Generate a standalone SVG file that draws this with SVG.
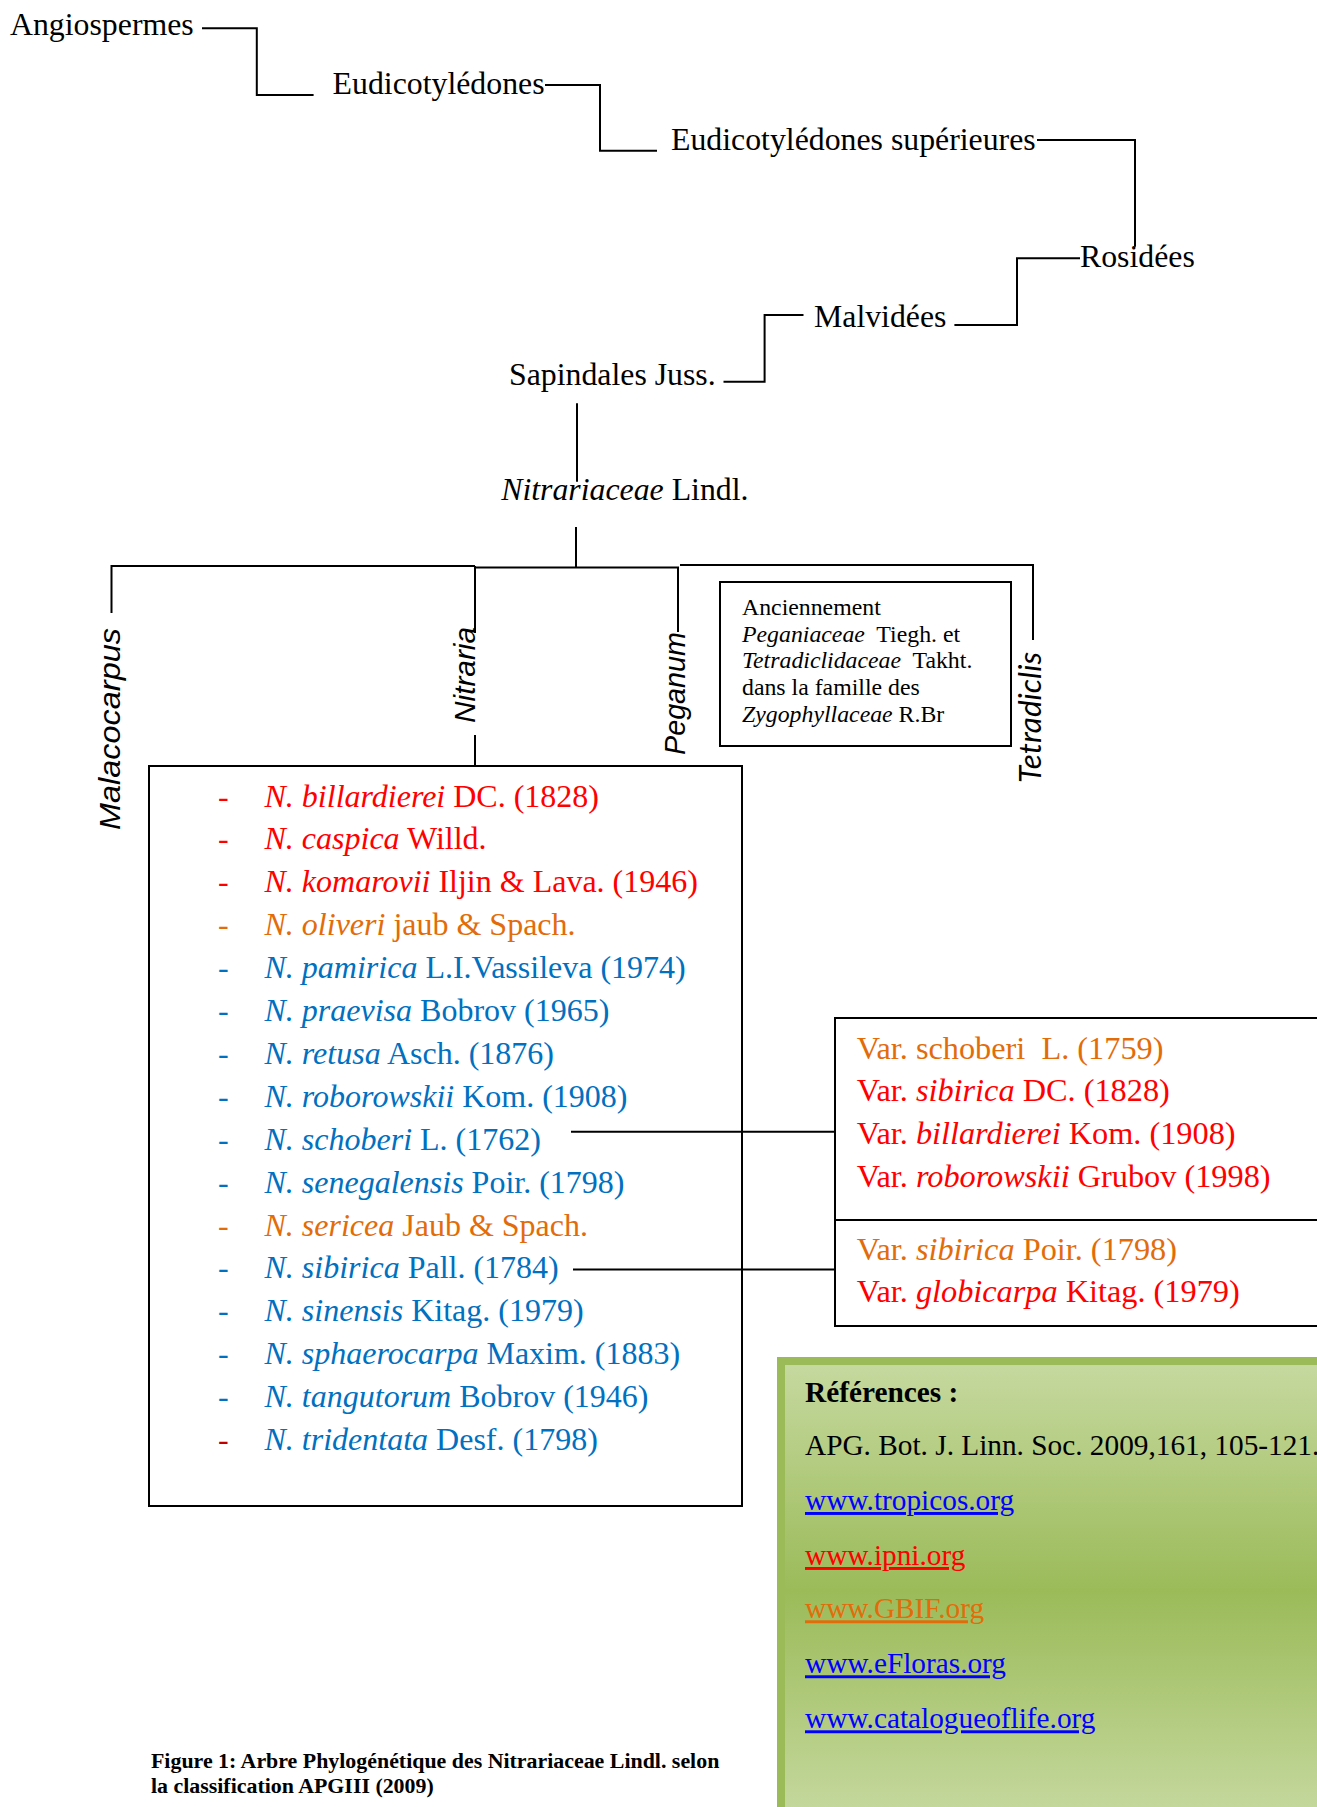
<svg xmlns="http://www.w3.org/2000/svg" width="1317" height="1807" viewBox="0 0 1317 1807">
<defs>
<linearGradient id="gr" x1="0" y1="0" x2="0" y2="1">
<stop offset="0" stop-color="#C6D9A0"/>
<stop offset="0.5" stop-color="#9BBB59"/>
<stop offset="1" stop-color="#C6D9A0"/>
</linearGradient>
</defs>
<style>
.t{font-family:"Liberation Serif","Times New Roman",serif;font-size:31.8px;fill:#000}
.l{font-family:"Liberation Serif","Times New Roman",serif;font-size:32px}
.v{font-family:"Liberation Serif","Times New Roman",serif;font-size:32.3px}
.s{font-family:"Liberation Serif","Times New Roman",serif;font-size:23.8px;fill:#000}
.r{font-family:"Liberation Serif","Times New Roman",serif;font-size:29.3px;fill:#000}
.g{font-family:"Liberation Sans",Arial,sans-serif;font-style:italic;font-size:30px;fill:#000}
.c{font-family:Lato,"Liberation Sans",sans-serif;font-style:italic;font-size:31px;fill:#000}
.i{font-style:italic}
.red{fill:#FF0000}
.ora{fill:#E36C0A}
.blu{fill:#0070C0}
.dred{fill:#C00000}
.lb{fill:#0000FF}
.ln{fill:none;stroke:#000;stroke-width:2}
.bx{fill:#fff;stroke:#000;stroke-width:2}
.u{text-decoration:underline}
</style>

<g id="angiospermes"><text class="t" x="10" y="34.5">Angiospermes</text></g>
<g id="eudicotyledones"><text class="t" x="332.6" y="93.5">Eudicotylédones</text></g>
<g id="eudicotyledones-superieures"><text class="t" x="671" y="150">Eudicotylédones supérieures</text></g>
<g id="rosidees"><text class="t" x="1080" y="266.7">Rosidées</text></g>
<g id="malvidees"><text class="t" x="814" y="326.7">Malvidées</text></g>
<g id="sapindales"><text class="t" x="509" y="384.5">Sapindales Juss.</text></g>
<g id="nitrariaceae"><text class="t" x="501.2" y="500"><tspan class="i">Nitrariaceae</tspan> Lindl.</text></g>

<g id="malacocarpus"><text class="g" transform="translate(120,830) rotate(-90)" textLength="202" lengthAdjust="spacingAndGlyphs">Malacocarpus</text></g>
<g id="nitraria"><text class="g" transform="translate(475,723) rotate(-90)" textLength="96" lengthAdjust="spacingAndGlyphs">Nitraria</text></g>
<g id="peganum"><text class="g" transform="translate(685,755) rotate(-90)" textLength="123" lengthAdjust="spacingAndGlyphs">Peganum</text></g>
<g id="tetradiclis"><text class="c" transform="translate(1041,783) rotate(-90)" textLength="131" lengthAdjust="spacingAndGlyphs">Tetradiclis</text></g>

<g id="note">
<rect class="bx" x="720" y="582" width="291" height="164"/>
<text class="s" x="742" y="615">Anciennement</text>
<text class="s" x="742" y="641.7" xml:space="preserve"><tspan class="i">Peganiaceae</tspan>  Tiegh. et</text>
<text class="s" x="742" y="668.3" xml:space="preserve"><tspan class="i">Tetradiclidaceae</tspan>  Takht.</text>
<text class="s" x="742" y="695">dans la famille des</text>
<text class="s" x="742" y="721.7"><tspan class="i">Zygophyllaceae</tspan> R.Br</text>
</g>

<g id="species">
<rect class="bx" x="149" y="766" width="593" height="740"/>
<g class="l">
<text class="red" x="218" y="806.5">-</text><text class="red" x="264.5" y="806.5"><tspan class="i">N. billardierei</tspan> DC. (1828)</text>
<text class="red" x="218" y="849.4">-</text><text class="red" x="264.5" y="849.4"><tspan class="i">N. caspica</tspan> Willd.</text>
<text class="red" x="218" y="892.3">-</text><text class="red" x="264.5" y="892.3"><tspan class="i">N. komarovii</tspan> Iljin &amp; Lava. (1946)</text>
<text class="ora" x="218" y="935.2">-</text><text class="ora" x="264.5" y="935.2"><tspan class="i">N. oliveri</tspan> jaub &amp; Spach.</text>
<text class="blu" x="218" y="978.1">-</text><text class="blu" x="264.5" y="978.1"><tspan class="i">N. pamirica</tspan> L.I.Vassileva (1974)</text>
<text class="blu" x="218" y="1021">-</text><text class="blu" x="264.5" y="1021"><tspan class="i">N. praevisa</tspan> Bobrov (1965)</text>
<text class="blu" x="218" y="1063.9">-</text><text class="blu" x="264.5" y="1063.9"><tspan class="i">N. retusa</tspan> Asch. (1876)</text>
<text class="blu" x="218" y="1106.8">-</text><text class="blu" x="264.5" y="1106.8"><tspan class="i">N. roborowskii</tspan> Kom. (1908)</text>
<text class="blu" x="218" y="1149.7">-</text><text class="blu" x="264.5" y="1149.7"><tspan class="i">N. schoberi</tspan> L. (1762)</text>
<text class="blu" x="218" y="1192.6">-</text><text class="blu" x="264.5" y="1192.6"><tspan class="i">N. senegalensis</tspan> Poir. (1798)</text>
<text class="ora" x="218" y="1235.5">-</text><text class="ora" x="264.5" y="1235.5"><tspan class="i">N. sericea</tspan> Jaub &amp; Spach.</text>
<text class="blu" x="218" y="1278.4">-</text><text class="blu" x="264.5" y="1278.4"><tspan class="i">N. sibirica</tspan> Pall. (1784)</text>
<text class="blu" x="218" y="1321.3">-</text><text class="blu" x="264.5" y="1321.3"><tspan class="i">N. sinensis</tspan> Kitag. (1979)</text>
<text class="blu" x="218" y="1364.2">-</text><text class="blu" x="264.5" y="1364.2"><tspan class="i">N. sphaerocarpa</tspan> Maxim. (1883)</text>
<text class="blu" x="218" y="1407.1">-</text><text class="blu" x="264.5" y="1407.1"><tspan class="i">N. tangutorum</tspan> Bobrov (1946)</text>
<text class="dred" x="218" y="1450">-</text><text class="blu" x="264.5" y="1450"><tspan class="i">N. tridentata</tspan> Desf. (1798)</text>
</g>
</g>

<g id="var-schoberi">
<rect class="bx" x="835" y="1018" width="500" height="229"/>
<g class="v">
<text class="ora" x="856.7" y="1058.5" xml:space="preserve">Var. schoberi  L. (1759)</text>
<text class="red" x="856.7" y="1101.3">Var. <tspan class="i">sibirica</tspan> DC. (1828)</text>
<text class="red" x="856.7" y="1144.1">Var. <tspan class="i">billardierei</tspan> Kom. (1908)</text>
<text class="red" x="856.7" y="1186.9">Var. <tspan class="i">roborowskii</tspan> Grubov (1998)</text>
</g>
</g>

<g id="var-sibirica">
<rect class="bx" x="835" y="1220" width="500" height="106"/>
<g class="v">
<text class="ora" x="856.7" y="1259.5">Var. <tspan class="i">sibirica</tspan> Poir. (1798)</text>
<text class="red" x="856.7" y="1302.3">Var. <tspan class="i">globicarpa</tspan> Kitag. (1979)</text>
</g>
</g>

<g id="references">
<rect x="781" y="1361" width="560" height="460" fill="url(#gr)" stroke="#9BBB59" stroke-width="8"/>
<text class="r" x="805" y="1401.7" font-weight="bold">Références :</text>
<text class="r" x="805" y="1455">APG. Bot. J. Linn. Soc. 2009,161, 105-121.</text>
<text class="r u lb" x="805" y="1510">www.tropicos.org</text>
<text class="r u red" x="805" y="1565">www.ipni.org</text>
<text class="r u ora" x="805" y="1618.3">www.GBIF.org</text>
<text class="r u lb" x="805" y="1673.3">www.eFloras.org</text>
<text class="r u lb" x="805" y="1728.3">www.catalogueoflife.org</text>
</g>

<g id="caption">
<text x="151" y="1768" font-family="Liberation Serif, Times New Roman, serif" font-weight="bold" font-size="21.9px">Figure 1: Arbre Phylogénétique des Nitrariaceae Lindl. selon</text>
<text x="151" y="1793" font-family="Liberation Serif, Times New Roman, serif" font-weight="bold" font-size="21.9px">la classification APGIII (2009)</text>
</g>

<g id="connectors">
<polyline class="ln" points="202,28.3 256.8,28.3 256.8,95 313.6,95"/>
<polyline class="ln" points="545,85 600,85 600,150.7 657,150.7"/>
<polyline class="ln" points="1037,140 1135,140 1135,246.7"/>
<polyline class="ln" points="1080,258.3 1017,258.3 1017,325 954.4,325"/>
<polyline class="ln" points="803.5,315 764.6,315 764.6,381.7 723.5,381.7"/>
<line class="ln" x1="577" y1="403.3" x2="577" y2="481.7"/>
<line class="ln" x1="576" y1="527" x2="576" y2="567.5" stroke-width="2.5"/>
<polyline class="ln" points="111.5,613 111.5,566 475,566"/>
<polyline class="ln" points="475,567.5 678,567.5 678,632"/>
<line class="ln" x1="475" y1="566" x2="475" y2="633"/>
<line class="ln" x1="475" y1="735" x2="475" y2="766"/>
<polyline class="ln" points="680,565 1033,565 1033,640"/>
<line class="ln" x1="571" y1="1131.7" x2="835" y2="1131.7"/>
<line class="ln" x1="573" y1="1269.5" x2="835" y2="1269.5"/>
</g>
</svg>
